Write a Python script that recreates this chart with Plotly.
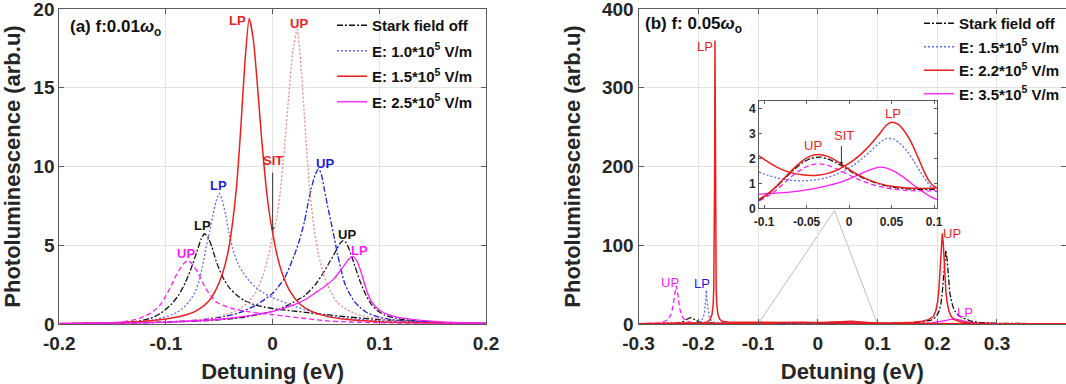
import plotly.graph_objects as go

FONT = "Liberation Sans, Arial, Helvetica, sans-serif"
INK = "#262626"

# ---------------- panel (a)  f = 0.01 w0 ----------------
A_BLACK_LP_X = [-0.2, -0.16, -0.13, -0.115, -0.105, -0.095, -0.088, -0.082, -0.076, -0.071, -0.067, -0.064, -0.061,
                -0.057, -0.053, -0.049, -0.045, -0.04, -0.034, -0.027, -0.018, -0.008, 0.005, 0.02, 0.035, 0.05,
                0.07, 0.1, 0.13, 0.16, 0.2]
A_BLACK_LP_Y = [0.02, 0.05, 0.14, 0.35, 0.68, 1.25, 1.85, 2.6, 3.6, 4.6, 5.4, 5.73, 5.55, 4.9, 4.0, 3.3, 2.75, 2.25,
                1.85, 1.5, 1.25, 1.08, 0.93, 0.82, 0.7, 0.6, 0.45, 0.28, 0.16, 0.08, 0.03]
A_BLACK_UP_X = [-0.2, -0.15, -0.1, -0.06, -0.03, -0.01, 0.0, 0.01, 0.02, 0.03, 0.04, 0.048, 0.054, 0.059, 0.063, 0.066,
                0.069, 0.073, 0.077, 0.082, 0.087, 0.092, 0.098, 0.105, 0.115, 0.13, 0.16, 0.2]
A_BLACK_UP_Y = [0.03, 0.06, 0.12, 0.22, 0.4, 0.65, 0.8, 1.05, 1.4, 1.8, 2.5, 3.3, 4.0, 4.6, 5.1, 5.3, 5.15, 4.5, 3.7,
                2.7, 1.9, 1.3, 0.85, 0.57, 0.37, 0.22, 0.1, 0.04]
A_BLUE_LP_X = [-0.2, -0.15, -0.125, -0.109, -0.094, -0.085, -0.078, -0.073, -0.069, -0.066, -0.0625, -0.059, -0.056,
               -0.053, -0.05, -0.047, -0.044, -0.041, -0.0375, -0.033, -0.028, -0.022, -0.0156, -0.008, 0.0, 0.0156,
               0.03, 0.047, 0.06, 0.078, 0.1, 0.13, 0.16, 0.2]
A_BLUE_LP_Y = [0.02, 0.08, 0.17, 0.3, 0.6, 0.95, 1.45, 2.0, 2.7, 3.6, 4.8, 5.9, 6.9, 7.8, 8.3, 7.8, 6.9, 5.8, 4.8, 3.9,
               3.3, 2.75, 2.3, 1.95, 1.67, 1.25, 0.92, 0.6, 0.43, 0.3, 0.2, 0.11, 0.06, 0.03]
A_BLUE_UP_X = [-0.2, -0.15, -0.109, -0.08, -0.0625, -0.045, -0.031, -0.0156, 0.0, 0.011, 0.0203, 0.0255, 0.0297, 0.033,
               0.036, 0.04, 0.043, 0.0457, 0.0484, 0.0515, 0.0547, 0.058, 0.061, 0.064, 0.067, 0.0715, 0.0766, 0.082,
               0.089, 0.1, 0.111, 0.125, 0.142, 0.17, 0.2]
A_BLUE_UP_Y = [0.02, 0.05, 0.1, 0.2, 0.3, 0.48, 0.72, 1.2, 1.95, 2.9, 4.37, 5.4, 6.47, 7.6, 8.56, 9.5, 9.85, 9.5, 8.56,
               7.5, 6.47, 5.4, 4.37, 3.5, 2.7, 2.0, 1.44, 1.05, 0.7, 0.43, 0.28, 0.2, 0.14, 0.07, 0.04]
A_RED_LP_X = [-0.2, -0.15, -0.12, -0.1, -0.08, -0.07, -0.06, -0.053, -0.047, -0.042, -0.038, -0.034, -0.03, -0.026,
              -0.022, -0.018, -0.014, -0.01, -0.006, -0.003, 0.0, 0.004, 0.009, 0.016, 0.025, 0.035, 0.05, 0.07, 0.1,
              0.15, 0.2]
A_RED_LP_Y = [0.03, 0.08, 0.18, 0.32, 0.6, 0.9, 1.45, 2.2, 3.2, 4.5, 6.2, 8.6, 12.3, 16.6, 19.4, 18.0, 14.9, 11.5, 8.6,
              7.0, 5.8, 4.4, 3.2, 2.1, 1.3, 0.85, 0.5, 0.28, 0.15, 0.07, 0.03]
A_RED_UP_X = [-0.2, -0.15, -0.1, -0.07, -0.05, -0.035, -0.025, -0.016, -0.009, -0.004, 0.0, 0.004, 0.007, 0.011, 0.015,
              0.019, 0.023, 0.027, 0.031, 0.035, 0.039, 0.043, 0.048, 0.054, 0.06, 0.07, 0.08, 0.1, 0.12, 0.15, 0.2]
A_RED_UP_Y = [0.03, 0.06, 0.14, 0.27, 0.48, 0.82, 1.25, 2.0, 3.1, 4.3, 5.6, 6.8, 8.3, 11.1, 14.4, 17.4, 18.7, 16.0,
              11.9, 8.3, 6.0, 4.4, 3.1, 2.1, 1.4, 0.9, 0.6, 0.32, 0.18, 0.08, 0.03]
A_MAG_UP_X = [-0.2, -0.16, -0.14, -0.125, -0.1125, -0.105, -0.1, -0.095, -0.0906, -0.086, -0.0825, -0.0795, -0.076,
              -0.0703, -0.066, -0.0625, -0.058, -0.053, -0.045, -0.0375, -0.025, -0.0125, 0.0, 0.015, 0.031, 0.047,
              0.07, 0.1, 0.15, 0.2]
A_MAG_UP_Y = [0.02, 0.06, 0.14, 0.35, 0.77, 1.25, 1.8, 2.45, 3.07, 3.6, 3.9, 4.02, 3.85, 3.28, 2.7, 2.23, 1.8, 1.4,
              1.15, 0.97, 0.8, 0.68, 0.6, 0.47, 0.35, 0.22, 0.13, 0.08, 0.04, 0.02]
A_MAG_LP_X = [-0.2, -0.15, -0.1, -0.05, -0.02, 0.0, 0.0203, 0.032, 0.042, 0.05, 0.0578, 0.063, 0.0672, 0.071, 0.075,
              0.079, 0.0828, 0.0859, 0.089, 0.092, 0.0965, 0.1016, 0.11, 0.12, 0.142, 0.17, 0.2]
A_MAG_LP_Y = [0.02, 0.05, 0.12, 0.3, 0.55, 0.8, 1.23, 1.6, 2.07, 2.45, 2.9, 3.35, 3.74, 4.1, 4.3, 4.0, 3.32, 2.6, 1.95,
              1.5, 1.1, 0.81, 0.56, 0.39, 0.22, 0.1, 0.05]

A_XTICKS = [-0.2, -0.1, 0, 0.1, 0.2]
A_XTICKTEXT = ["-0.2", "-0.1", "0", "0.1", "0.2"]
A_YTICKS = [0, 5, 10, 15, 20]

# ---------------- panel (b)  f = 0.05 w0 ----------------
B_BLACK_LP_X = [-0.3, -0.26, -0.24, -0.23, -0.224, -0.219, -0.215, -0.213, -0.21, -0.206, -0.2, -0.193, -0.185, -0.17,
                -0.14, -0.1, 0.0, 0.2, 0.42]
B_BLACK_LP_Y = [0.1, 0.3, 0.8, 1.8, 3.5, 6.0, 7.8, 8.0, 7.3, 5.2, 3.0, 1.9, 1.3, 0.9, 0.55, 0.35, 0.2, 0.1, 0.05]
B_BLACK_UP_X = [-0.3, -0.1, -0.08, -0.063, -0.045, -0.03, -0.015, 0.0, 0.02, 0.04, 0.07, 0.1, 0.13, 0.16, 0.18, 0.19,
                0.198, 0.203, 0.206, 0.2085, 0.2105, 0.2125, 0.2145, 0.2165, 0.2185, 0.221, 0.224, 0.228, 0.234,
                0.242, 0.255, 0.27, 0.3, 0.42]
B_BLACK_UP_Y = [0.1, 0.32, 0.8, 1.4, 1.9, 2.05, 1.85, 1.5, 1.1, 0.88, 0.78, 0.78, 1.0, 1.8, 3.2, 5.0, 9.0, 16.0, 25.0,
                40.0, 60.0, 82.0, 93.7, 82.0, 60.0, 40.0, 28.0, 18.0, 12.0, 8.0, 4.0, 2.0, 0.8, 0.3]
B_BLUE_X = [-0.3, -0.25, -0.22, -0.205, -0.199, -0.194, -0.191, -0.189, -0.1875, -0.1865, -0.1855, -0.184, -0.182,
            -0.179, -0.174, -0.165, -0.14, -0.1, -0.063, -0.044, -0.026, -0.007, 0.011, 0.03, 0.044, 0.056, 0.074,
            0.089, 0.1, 0.13, 0.2, 0.3, 0.42]
B_BLUE_Y = [0.2, 0.4, 0.8, 1.5, 2.5, 5.0, 10.0, 18.0, 32.0, 43.0, 32.0, 18.0, 10.0, 5.0, 2.5, 1.5, 1.2, 1.45, 1.11,
            1.11, 1.22, 1.51, 2.05, 2.6, 2.8, 2.73, 2.19, 1.38, 0.7, 0.5, 0.4, 0.3, 0.2]
B_RED_LP_X = [-0.3, -0.25, -0.2, -0.19, -0.184, -0.18, -0.177, -0.175, -0.174, -0.173, -0.1725, -0.172, -0.1715,
              -0.171, -0.17, -0.169, -0.167, -0.164, -0.16, -0.15, -0.12, -0.1, -0.08, -0.06, -0.045, -0.025, -0.01,
              0.007, 0.025, 0.04, 0.05, 0.057, 0.067, 0.078, 0.089, 0.1, 0.13, 0.2, 0.3, 0.42]
B_RED_LP_Y = [0.4, 0.6, 1.0, 1.6, 3.0, 6.0, 12.0, 25.0, 45.0, 107.0, 200.0, 360.0, 200.0, 107.0, 45.0, 25.0, 12.0, 6.0,
              3.5, 2.4, 2.2, 2.05, 1.58, 1.38, 1.31, 1.4, 1.65, 1.99, 2.6, 3.16, 3.45, 3.4, 3.0, 2.4, 1.6, 0.85, 0.5,
              0.4, 0.3, 0.2]
B_RED_UP_X = [-0.3, -0.2, -0.1, -0.08, -0.063, -0.044, -0.035, -0.026, -0.011, 0.004, 0.022, 0.041, 0.067, 0.098, 0.13,
              0.16, 0.175, 0.185, 0.1935, 0.1975, 0.2005, 0.2025, 0.204, 0.2055, 0.207, 0.2085, 0.21, 0.2115, 0.213,
              0.2145, 0.2165, 0.2195, 0.2235, 0.2285, 0.24, 0.26, 0.3, 0.42]
B_RED_UP_Y = [0.2, 0.3, 0.36, 0.84, 1.45, 1.99, 2.15, 2.1, 1.92, 1.51, 1.14, 0.9, 0.81, 0.84, 1.2, 2.2, 3.5, 5.5, 9.5,
              16.5, 27.6, 41.0, 57.5, 80.0, 103.5, 115.0, 103.5, 80.0, 57.5, 41.0, 27.6, 16.5, 9.5, 5.5, 2.5, 1.0,
              0.4, 0.2]
B_MAG_UP_X = [-0.3, -0.28, -0.267, -0.257, -0.25, -0.246, -0.243, -0.241, -0.239, -0.237, -0.235, -0.233, -0.231,
              -0.228, -0.224, -0.217, -0.207, -0.19, -0.15, -0.1, -0.08, -0.06, -0.045, -0.03, -0.015, 0.0, 0.02,
              0.04, 0.07, 0.1, 0.15, 0.25, 0.42]
B_MAG_UP_Y = [0.6, 0.9, 1.3, 2.85, 6.25, 11.4, 19.9, 29.6, 41.8, 48.5, 41.8, 29.6, 19.9, 11.4, 6.25, 2.85, 1.3, 0.9,
              0.5, 0.3, 0.7, 1.2, 1.6, 1.81, 1.7, 1.45, 1.1, 0.88, 0.75, 0.7, 0.5, 0.3, 0.2]
B_MAG_LP_X = [-0.3, -0.1, -0.06, -0.03, 0.0, 0.02, 0.033, 0.05, 0.067, 0.085, 0.1, 0.15, 0.19, 0.205, 0.215, 0.222,
              0.2275, 0.233, 0.24, 0.25, 0.265, 0.3, 0.42]
B_MAG_LP_Y = [0.4, 0.57, 0.64, 0.84, 1.22, 1.51, 1.65, 1.55, 1.38, 0.84, 0.35, 0.6, 1.5, 2.8, 4.5, 5.8, 6.3, 5.8, 4.5,
              2.8, 1.5, 0.7, 0.3]

B_XTICKS = [-0.3, -0.2, -0.1, 0, 0.1, 0.2, 0.3]
B_XTICKTEXT = ["-0.3", "-0.2", "-0.1", "0", "0.1", "0.2", "0.3"]
B_YTICKS = [0, 100, 200, 300, 400]

# ---------------- inset of panel (b) ----------------
I_RED_LP_X = [-0.106, -0.095, -0.085, -0.075, -0.065, -0.055, -0.045, -0.035, -0.025, -0.015, -0.005, 0.005, 0.015,
              0.025, 0.035, 0.043, 0.05, 0.057, 0.065, 0.073, 0.081, 0.088, 0.094, 0.1, 0.104]
I_RED_LP_Y = [2.1, 1.85, 1.65, 1.5, 1.4, 1.34, 1.31, 1.33, 1.4, 1.52, 1.7, 1.92, 2.2, 2.55, 2.95, 3.3, 3.45, 3.38,
              3.1, 2.65, 2.05, 1.5, 1.1, 0.88, 0.82]
I_COMMON_X = [-0.106, -0.095, -0.085, -0.075, -0.065, -0.055, -0.045, -0.034, -0.025, -0.015, -0.005, 0.005, 0.015,
              0.025, 0.035, 0.05, 0.065, 0.08, 0.095, 0.104]
I_RED_UP_Y = [0.36, 0.6, 0.9, 1.25, 1.6, 1.9, 2.1, 2.15, 2.08, 1.9, 1.68, 1.45, 1.27, 1.12, 1.0, 0.88, 0.82, 0.8, 0.8,
              0.82]
I_BLACK_Y = [0.33, 0.58, 0.88, 1.22, 1.55, 1.82, 2.0, 2.05, 1.98, 1.82, 1.63, 1.42, 1.24, 1.1, 0.98, 0.85, 0.79, 0.76,
             0.76, 0.78]
I_MAG_UP_Y = [0.3, 0.5, 0.75, 1.05, 1.35, 1.58, 1.74, 1.78, 1.72, 1.58, 1.42, 1.25, 1.1, 0.98, 0.88, 0.78, 0.72, 0.7,
              0.7, 0.7]
I_BLUE_X = [-0.106, -0.095, -0.085, -0.075, -0.065, -0.055, -0.045, -0.035, -0.025, -0.015, -0.005, 0.005, 0.015,
            0.025, 0.035, 0.044, 0.052, 0.06, 0.068, 0.076, 0.084, 0.092, 0.1, 0.104]
I_BLUE_Y = [1.45, 1.32, 1.22, 1.15, 1.11, 1.1, 1.12, 1.16, 1.24, 1.36, 1.52, 1.72, 1.98, 2.28, 2.6, 2.8, 2.78, 2.6,
            2.3, 1.9, 1.45, 1.05, 0.72, 0.65]
I_MAG_LP_X = [-0.106, -0.09, -0.07, -0.05, -0.03, -0.01, 0.005, 0.02, 0.03, 0.037, 0.045, 0.055, 0.065, 0.075, 0.085,
              0.095, 0.104]
I_MAG_LP_Y = [0.57, 0.6, 0.65, 0.74, 0.87, 1.05, 1.25, 1.48, 1.6, 1.65, 1.6, 1.45, 1.22, 0.95, 0.7, 0.48, 0.34]

I_XTICKS = [-0.1, -0.05, 0, 0.05, 0.1]
I_XTICKTEXT = ["-0.1", "-0.05", "0", "0.05", "0.1"]
I_YTICKS = [0, 1, 2, 3, 4]
I_ANCHOR = (0.028, 144)      # apex of the zoom guide lines (data units of panel b)
I_SPAN = (-0.1, 0.1)

# legend names
A_NAMES = ["Stark field off", "E: 1.0*10<sup>5</sup> V/m", "E: 1.5*10<sup>5</sup> V/m", "E: 2.5*10<sup>5</sup> V/m"]
B_NAMES = ["Stark field off", "E: 1.5*10<sup>5</sup> V/m", "E: 2.2*10<sup>5</sup> V/m", "E: 3.5*10<sup>5</sup> V/m"]

BLACK = "#111111"
BLUE_L = "#5c6bf2"
BLUE_D = "#1c1ce0"
RED = "#ee1d1d"
RED_L = "#ef8585"
MAG = "#ff1aff"
DOT = "2px,2px"
DASHDOT = "6px,2px,2px,2px"
DASH = "5px,3px"

W, H = 1066, 384


def fx(px):
    return px / W


def fy(py):
    return 1 - py / H


fig = go.Figure()


def add(x, y, color, dash, xa, ya, name=None, legend=None, rank=0, width=1.3, shape="spline"):
    fig.add_trace(go.Scatter(
        x=x, y=y, mode="lines", xaxis=xa, yaxis=ya,
        line=dict(color=color, width=width, dash=dash, shape=shape, smoothing=0.6 if shape == "spline" else None),
        name=name, showlegend=name is not None, legend=legend, legendrank=rank,
        legendgroup=(legend or "") + str(rank), hoverinfo="skip"))


# panel (a)
add(A_BLACK_LP_X, A_BLACK_LP_Y, BLACK, DASHDOT, "x", "y", A_NAMES[0], "legend", 1)
add(A_BLACK_UP_X, A_BLACK_UP_Y, BLACK, DASHDOT, "x", "y")
add(A_BLUE_LP_X, A_BLUE_LP_Y, BLUE_L, DOT, "x", "y", A_NAMES[1], "legend", 2)
add(A_BLUE_UP_X, A_BLUE_UP_Y, BLUE_D, DASHDOT, "x", "y")
add(A_RED_UP_X, A_RED_UP_Y, RED_L, DOT, "x", "y")
add(A_RED_LP_X, A_RED_LP_Y, RED, "solid", "x", "y", A_NAMES[2], "legend", 3, width=1.5)
add(A_MAG_UP_X, A_MAG_UP_Y, MAG, DASH, "x", "y")
add(A_MAG_LP_X, A_MAG_LP_Y, MAG, "solid", "x", "y", A_NAMES[3], "legend", 4)

# panel (b)
add(B_MAG_UP_X, B_MAG_UP_Y, MAG, DASH, "x2", "y2", shape="linear")
add(B_MAG_LP_X, B_MAG_LP_Y, MAG, "solid", "x2", "y2", B_NAMES[3], "legend2", 4, shape="linear")
add(B_BLACK_LP_X, B_BLACK_LP_Y, BLACK, DASHDOT, "x2", "y2", B_NAMES[0], "legend2", 1, shape="linear")
add(B_BLACK_UP_X, B_BLACK_UP_Y, BLACK, DASHDOT, "x2", "y2", shape="linear")
add(B_BLUE_X, B_BLUE_Y, BLUE_L, DOT, "x2", "y2", B_NAMES[1], "legend2", 2, shape="linear")
add(B_RED_LP_X, B_RED_LP_Y, RED, "solid", "x2", "y2", B_NAMES[2], "legend2", 3, width=1.5, shape="linear")
add(B_RED_UP_X, B_RED_UP_Y, RED, "solid", "x2", "y2", width=1.5, shape="linear")

# inset
add(I_BLUE_X, I_BLUE_Y, BLUE_L, DOT, "x3", "y3")
add(I_MAG_LP_X, I_MAG_LP_Y, MAG, "solid", "x3", "y3")
add(I_COMMON_X, I_MAG_UP_Y, MAG, DASH, "x3", "y3")
add(I_COMMON_X, I_BLACK_Y, BLACK, DASHDOT, "x3", "y3")
add(I_COMMON_X, I_RED_UP_Y, RED, "solid", "x3", "y3", width=1.5)
add(I_RED_LP_X, I_RED_LP_Y, RED, "solid", "x3", "y3", width=1.5)

tickfont = dict(family=FONT, size=19, color=INK, weight="bold")
titlefont = dict(family=FONT, size=22, color=INK, weight="bold")
frame = dict(showline=True, linecolor="#5a5a5a", linewidth=1, mirror="ticks", ticks="inside", ticklen=5,
             tickcolor="#5a5a5a", zeroline=False, showgrid=True, gridcolor="#e3e3e3", gridwidth=1,
             automargin=False, ticklabeloverflow="allow")
inset_frame = dict(showline=True, linecolor="#5a5a5a", linewidth=1, mirror="ticks", ticks="inside", ticklen=3,
                   tickcolor="#5a5a5a", zeroline=False, showgrid=False, automargin=False,
                   ticklabeloverflow="allow", tickfont=dict(family=FONT, size=12, color=INK, weight="bold"))
legend_common = dict(xanchor="left", yanchor="top", bgcolor="rgba(0,0,0,0)",
                     font=dict(family=FONT, size=15, color="#111", weight="bold"), traceorder="grouped",
                     itemwidth=30)

Y_DOM = [fy(324), fy(9)]
fig.update_layout(
    width=W, height=H, autosize=False,
    margin=dict(l=0, r=0, t=0, b=0),
    paper_bgcolor="white", plot_bgcolor="white",
    font=dict(family=FONT, color=INK),
    xaxis=dict(domain=[fx(59.3), fx(486)], range=[-0.2, 0.2], tickvals=A_XTICKS, ticktext=A_XTICKTEXT,
               tickfont=tickfont, title=dict(text="Detuning (eV)", font=titlefont),
               anchor="y", **frame),
    yaxis=dict(domain=Y_DOM, range=[0, 20], tickvals=A_YTICKS, tickfont=tickfont,
               title=dict(text="Photoluminescence (arb.u)", font=titlefont),
               anchor="x", **frame),
    xaxis2=dict(domain=[fx(638.5), 1.0], range=[-0.3, 0.4155], tickvals=B_XTICKS, ticktext=B_XTICKTEXT,
                tickfont=tickfont, title=dict(text="Detuning (eV)", font=titlefont),
                anchor="y2", **frame),
    yaxis2=dict(domain=Y_DOM, range=[0, 400], tickvals=B_YTICKS, tickfont=tickfont,
                title=dict(text="Photoluminescence (arb.u)", font=titlefont),
                anchor="x2", **frame),
    xaxis3=dict(domain=[fx(759), fx(937)], range=[-0.106, 0.1035], tickvals=I_XTICKS, ticktext=I_XTICKTEXT,
                anchor="y3", **inset_frame),
    yaxis3=dict(domain=[fy(208.3), fy(101)], range=[0, 4.3], tickvals=I_YTICKS,
                anchor="x3", **inset_frame),
    legend=dict(x=fx(332), y=fy(9), tracegroupgap=3, **legend_common),
    legend2=dict(x=fx(919), y=fy(7), tracegroupgap=1, **legend_common),
)
for ax in ["xaxis", "xaxis2", "xaxis3"]:
    fig.layout[ax].ticklabelstandoff = 2

# zoom guide lines from the inset to the magnified interval
for xe in I_SPAN:
    fig.add_shape(type="line", xref="x2", yref="y2", x0=I_ANCHOR[0], y0=I_ANCHOR[1], x1=xe, y1=0,
                  line=dict(color="#bdbdbd", width=1), layer="below")

ann = []


def label(x, y, text, color, xr, yr, bold=True, size=13):
    ann.append(dict(x=x, y=y, xref=xr, yref=yr, text=("<b>%s</b>" % text) if bold else text, showarrow=False,
                    font=dict(family=FONT, size=size, color=color)))


# panel (a) labels
label(-0.033, 19.3, "LP", RED, "x", "y")
label(0.0247, 19.1, "UP", RED, "x", "y")
label(0.0, 10.4, "SIT", RED, "x", "y")
label(0.049, 10.2, "UP", BLUE_D, "x", "y")
label(-0.0506, 8.8, "LP", BLUE_D, "x", "y")
label(-0.066, 6.25, "LP", BLACK, "x", "y")
label(0.0697, 5.7, "UP", BLACK, "x", "y")
label(-0.081, 4.45, "UP", MAG, "x", "y")
label(0.0816, 4.65, "LP", MAG, "x", "y")
ann.append(dict(x=0.0, y=5.9, ax=0.0, ay=9.7, xref="x", yref="y", axref="x", ayref="y", text="", showarrow=True,
                arrowhead=2, arrowsize=0.7, arrowwidth=1, arrowcolor="#333"))

# panel (b) labels
label(-0.188, 352, "LP", RED, "x2", "y2", bold=False)
label(-0.248, 53, "UP", MAG, "x2", "y2", bold=False)
label(-0.1934, 51, "LP", BLUE_D, "x2", "y2", bold=False)
label(0.2251, 115, "UP", RED, "x2", "y2", bold=False)
label(0.2458, 14, "LP", MAG, "x2", "y2", bold=False)

# inset labels
label(-0.0426, 2.53, "UP", RED, "x3", "y3", bold=False)
label(-0.0056, 2.9, "SIT", RED, "x3", "y3", bold=False)
label(0.052, 3.81, "LP", RED, "x3", "y3", bold=False)
ann.append(dict(x=-0.009, y=1.72, ax=-0.009, ay=2.55, xref="x3", yref="y3", axref="x3", ayref="y3", text="",
                showarrow=True, arrowhead=2, arrowsize=0.7, arrowwidth=1, arrowcolor="#333"))

# panel titles
ann.append(dict(x=fx(68), y=fy(28), xref="paper", yref="paper", xanchor="left", yanchor="middle",
                showarrow=False, text="<b>(a) f:0.01<i>ω</i><sub>o</sub></b>",
                font=dict(family=FONT, size=17, color="#111")))
ann.append(dict(x=fx(643), y=fy(25), xref="paper", yref="paper", xanchor="left", yanchor="middle",
                showarrow=False, text="<b>(b) f: 0.05<i>ω</i><sub>o</sub></b>",
                font=dict(family=FONT, size=17, color="#111")))

fig.update_layout(annotations=ann)
# remove the default page margin so the 1066x384 figure fills the window exactly; no mode bar
fig.write_html("out.html", config={"displayModeBar": False},
               post_script="document.body.style.margin='0';")
